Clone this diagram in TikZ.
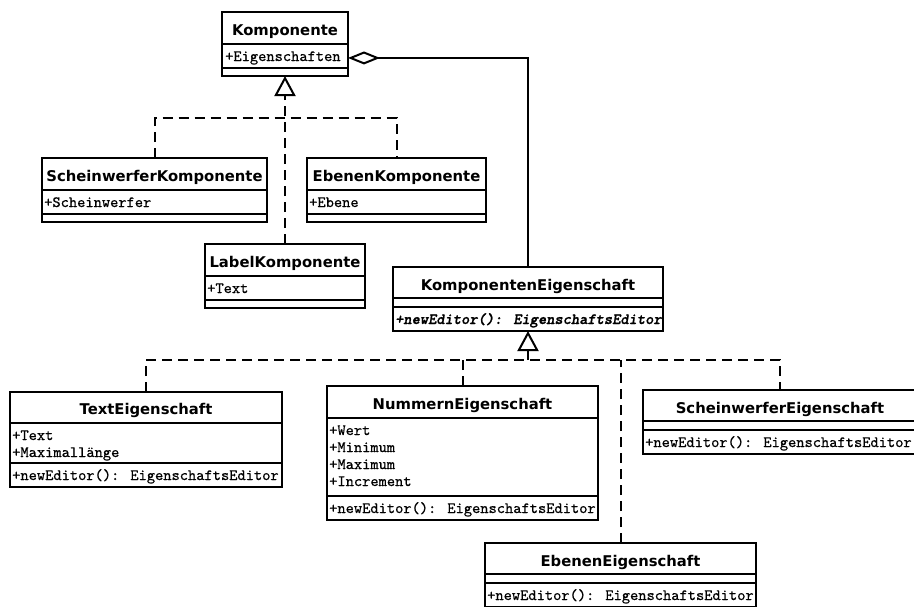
\documentclass[tikz,border=0pt]{standalone}
\usepackage{fontspec}
\newfontfamily\classfont{DejaVu Sans}
\newfontfamily\memberfont{lmmono10-regular.otf}[FakeBold=0.6]
\newfontfamily\abstractfont{lmmonolt10-boldoblique.otf}[FakeBold=1.2]
\usetikzlibrary{arrows.meta}

\tikzset{
  classframe/.style={draw, line width=2pt, inner sep=0pt, outer sep=0pt,
    anchor=north west},
  rowsep/.style={line width=2pt},
  classtitle/.style={font=\classfont\bfseries\fontsize{14.8}{16}\selectfont,
    anchor=base, inner sep=0pt},
  member/.style={font=\memberfont\fontsize{15.7}{17}\selectfont,
    anchor=base west, inner sep=0pt},
  abstractop/.style={member, font=\abstractfont\fontsize{15.7}{17}\selectfont},
  realize/.style={line width=2pt, dash pattern=on 10pt off 6pt},
  gentip/.style={-{Triangle[open, length=20pt, width=21pt]}},
  aggregation/.style={line width=2pt, {Diamond[open, length=32pt, width=13pt]}-},
}

\begin{document}
\begin{tikzpicture}[x=1pt, y=-1pt]
  \fill[white] (0,0) rectangle (914,606);
  \useasboundingbox (0,0) rectangle (914,606);
  \clip (0,0) rectangle (914,606);

  % ---------- member texts ----------
  % Komponente
  \node[classtitle] (kompT) at (285,35) {Komponente};
  \node[member] (kompA) at (225,61) {+Eigenschaften};
  % ScheinwerferKomponente
  \node[classtitle] (skT) at (154.5,181) {ScheinwerferKomponente};
  \node[member] (skA) at (44,207) {+Scheinwerfer};
  % EbenenKomponente
  \node[classtitle] (ekT) at (396.5,181) {EbenenKomponente};
  \node[member] (ekA) at (309,207) {+Ebene};
  % LabelKomponente
  \node[classtitle] (lkT) at (285,267) {LabelKomponente};
  \node[member] (lkA) at (207,293) {+Text};
  % KomponentenEigenschaft
  \node[classtitle] (keT) at (528,290) {KomponentenEigenschaft};
  \node[abstractop] (keO) at (395,324) {+newEditor(): EigenschaftsEditor};
  % TextEigenschaft
  \node[classtitle] (teT) at (146,414) {TextEigenschaft};
  \node[member] (teA1) at (12,440) {+Text};
  \node[member] (teA2) at (12,457) {+Maximallänge};
  \node[member] (teO) at (12,480) {+newEditor(): EigenschaftsEditor};
  % NummernEigenschaft
  \node[classtitle] (neT) at (462.5,409) {NummernEigenschaft};
  \node[member] (neA1) at (329,435) {+Wert};
  \node[member] (neA2) at (329,452) {+Minimum};
  \node[member] (neA3) at (329,469) {+Maximum};
  \node[member] (neA4) at (329,486) {+Increment};
  \node[member] (neO) at (329,513) {+newEditor(): EigenschaftsEditor};
  % ScheinwerferEigenschaft
  \node[classtitle] (seT) at (780,413) {ScheinwerferEigenschaft};
  \node[member] (seO) at (645,447) {+newEditor(): EigenschaftsEditor};
  % EbenenEigenschaft
  \node[classtitle] (eeT) at (620.5,566) {EbenenEigenschaft};
  \node[member] (eeO) at (487,600) {+newEditor(): EigenschaftsEditor};

  % ---------- class frames and compartments ----------
  \node[classframe, minimum width=126, minimum height=64] (komp) at (222,12) {};
  \draw[rowsep] (222,44) -- (348,44) (222,68) -- (348,68);

  \node[classframe, minimum width=225, minimum height=64] (sk) at (42,158) {};
  \draw[rowsep] (42,190) -- (267,190) (42,214) -- (267,214);

  \node[classframe, minimum width=179, minimum height=64] (ek) at (307,158) {};
  \draw[rowsep] (307,190) -- (486,190) (307,214) -- (486,214);

  \node[classframe, minimum width=160, minimum height=64] (lk) at (205,244) {};
  \draw[rowsep] (205,276) -- (365,276) (205,300) -- (365,300);

  \node[classframe, minimum width=270, minimum height=64] (ke) at (393,267) {};
  \draw[rowsep] (393,298) -- (663,298) (393,307) -- (663,307);

  \node[classframe, minimum width=272, minimum height=95] (te) at (10,392) {};
  \draw[rowsep] (10,423) -- (282,423) (10,463) -- (282,463);

  \node[classframe, minimum width=271, minimum height=134] (ne) at (327,386) {};
  \draw[rowsep] (327,418) -- (598,418) (327,496) -- (598,496);

  \node[classframe, minimum width=274, minimum height=64] (se) at (643,390) {};
  \draw[rowsep] (643,421) -- (917,421) (643,430) -- (917,430);

  \node[classframe, minimum width=271, minimum height=64] (ee) at (485,543) {};
  \draw[rowsep] (485,574) -- (756,574) (485,583) -- (756,583);

  % ---------- relations ----------
  \coordinate (kompJoin) at (285,118);
  \coordinate (keJoin) at (528,360);

  % Komponente and its subclasses
  \draw[realize] (sk.north) |- (kompJoin) -| (ek.north);
  \draw[realize, gentip] (lk.north) -- (komp.south);

  % aggregation of KomponentenEigenschaft
  \draw[aggregation] (komp.east |- kompA) -| (ke.north);

  % KomponentenEigenschaft and its subclasses
  \draw[realize] (te.north) |- (keJoin) -| (se.north);
  \draw[realize] (ne.north) -- (ne.north |- keJoin);
  \draw[realize] (ee.north) -- (ee.north |- keJoin);
  \draw[realize, gentip] (keJoin) -- (ke.south);
\end{tikzpicture}
\end{document}
